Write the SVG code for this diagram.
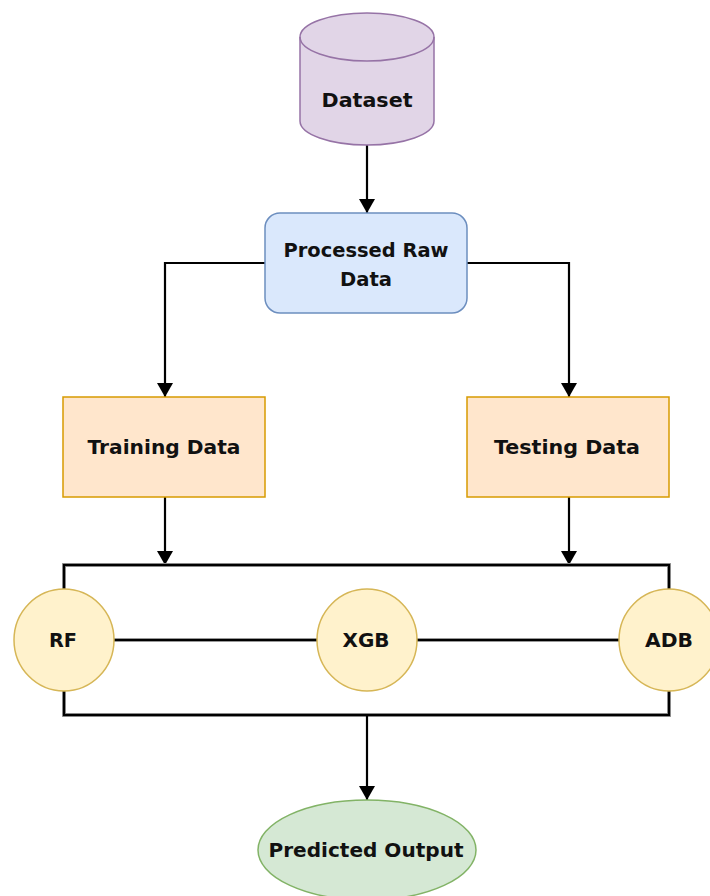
<svg xmlns="http://www.w3.org/2000/svg" width="710" height="896" viewBox="0 0 710 896">
<defs>
<marker id="arr" viewBox="0 0 14 16" refX="14" refY="8" markerWidth="14" markerHeight="16" markerUnits="userSpaceOnUse" orient="auto">
<path d="M0,0 L14,8 L0,16 Z" fill="#000"/>
</marker>
<style>
.t{font-family:"DejaVu Sans","Liberation Sans",sans-serif;font-size:19px;font-weight:bold;fill:#111;text-anchor:middle}
.c{fill:none;stroke:#000;stroke-width:2.2}
.cg{fill:none;stroke:#999;stroke-width:4}
</style>
</defs>
<rect width="710" height="896" fill="#fff"/>
<g id="connectors">
<line class="c" x1="367" y1="145" x2="367" y2="213" marker-end="url(#arr)"/>
<polyline class="c" points="265,263 165,263 165,397" marker-end="url(#arr)"/>
<polyline class="c" points="467,263 569,263 569,397" marker-end="url(#arr)"/>
<line class="c" x1="165" y1="497" x2="165" y2="565" marker-end="url(#arr)"/>
<line class="c" x1="569" y1="497" x2="569" y2="565" marker-end="url(#arr)"/>
<rect class="cg" x="64" y="565" width="605" height="150"/>
<rect class="c" x="64" y="565" width="605" height="150"/>
<line class="cg" x1="114" y1="640" x2="619" y2="640"/>
<line class="c" x1="114" y1="640" x2="619" y2="640"/>
<line class="c" x1="367" y1="715" x2="367" y2="800" marker-end="url(#arr)"/>
</g>
<g id="dataset">
<path d="M300,37 A67,24 0 0 1 434,37 L434,121 A67,24 0 0 1 300,121 Z" fill="#e1d5e7" stroke="#9673a6" stroke-width="1.5"/>
<path d="M300,37 A67,24 0 0 0 434,37" fill="none" stroke="#9673a6" stroke-width="1.5"/>
<text class="t" x="367" y="107" textLength="91" lengthAdjust="spacingAndGlyphs">Dataset</text>
</g>
<g id="processed">
<rect x="265" y="213" width="202" height="100" rx="15" fill="#dae8fc" stroke="#6c8ebf" stroke-width="1.5"/>
<text class="t" x="366" y="257" textLength="165" lengthAdjust="spacingAndGlyphs">Processed Raw</text>
<text class="t" x="366" y="286" textLength="52" lengthAdjust="spacingAndGlyphs">Data</text>
</g>
<g id="training">
<rect x="63" y="397" width="202" height="100" fill="#ffe6cc" stroke="#d79b00" stroke-width="1.5"/>
<text class="t" x="164" y="454" textLength="153" lengthAdjust="spacingAndGlyphs">Training Data</text>
</g>
<g id="testing">
<rect x="467" y="397" width="202" height="100" fill="#ffe6cc" stroke="#d79b00" stroke-width="1.5"/>
<text class="t" x="567" y="454" textLength="146" lengthAdjust="spacingAndGlyphs">Testing Data</text>
</g>
<g id="rf">
<ellipse cx="64" cy="640" rx="50" ry="51" fill="#fff2cc" stroke="#d6b656" stroke-width="1.5"/>
<text class="t" x="63" y="647" textLength="28" lengthAdjust="spacingAndGlyphs">RF</text>
</g>
<g id="xgb">
<ellipse cx="367" cy="640" rx="50" ry="51" fill="#fff2cc" stroke="#d6b656" stroke-width="1.5"/>
<text class="t" x="366" y="647" textLength="47" lengthAdjust="spacingAndGlyphs">XGB</text>
</g>
<g id="adb">
<ellipse cx="669" cy="640" rx="50" ry="51" fill="#fff2cc" stroke="#d6b656" stroke-width="1.5"/>
<text class="t" x="669" y="647" textLength="48" lengthAdjust="spacingAndGlyphs">ADB</text>
</g>
<g id="predicted">
<ellipse cx="367" cy="850" rx="109" ry="50" fill="#d5e8d4" stroke="#82b366" stroke-width="1.5"/>
<text class="t" x="366" y="857" textLength="195" lengthAdjust="spacingAndGlyphs">Predicted Output</text>
</g>
</svg>
